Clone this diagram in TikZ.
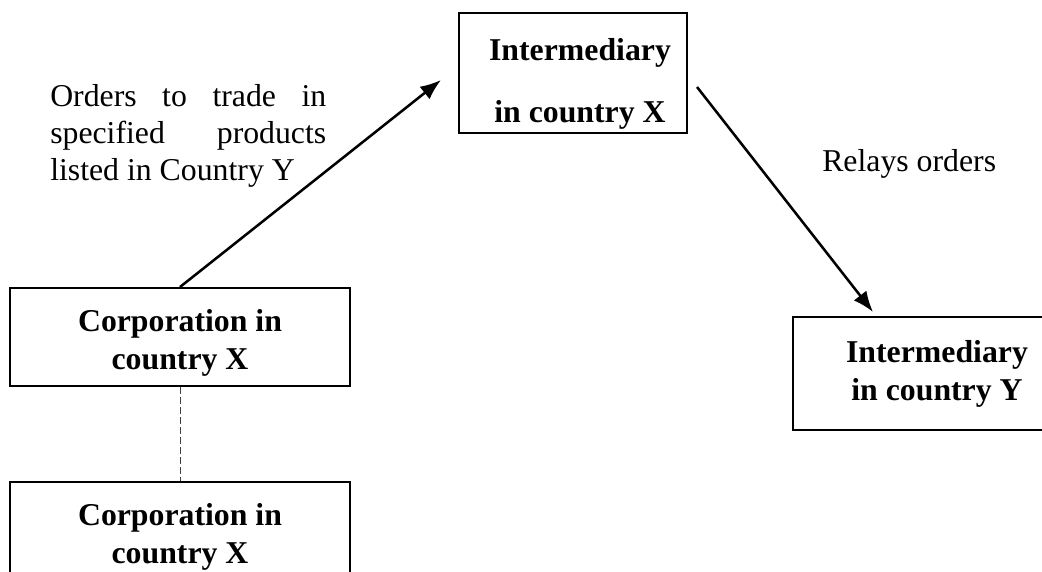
\documentclass[tikz,border=0pt]{standalone}
\usepackage{fontspec}
\setmainfont{Liberation Serif}
\usepackage{tikz}
\usepackage{xcolor}
\usetikzlibrary{arrows.meta, positioning}

\begin{document}
\begin{tikzpicture}[
    node distance=2.35cm,
    party/.style={rectangle, draw, line width=1.4pt, align=center, inner sep=0pt, font=\bfseries\fontsize{22.6}{27}\selectfont},
    corpbox/.style={party, minimum width=8.5cm, minimum height=2.45cm},
    note/.style={inner sep=0pt, anchor=base west, font=\fontsize{22.6}{26}\selectfont},
    flow/.style={-{Latex[length=0.52cm, width=0.4cm]}, line width=1.8pt}
]
\useasboundingbox (0,0) rectangle (26.05,-14.3);

\node[corpbox] (corp) at (4.5,-8.425) {\rule{0pt}{0.84cm}Corporation in\\country X};
\node[corpbox, below=of corp] (corpb) {\rule{0pt}{0.84cm}Corporation in\\country X};

\node[party, minimum width=5.7cm, minimum height=3cm] (interx) at (14.325,-1.825) {\rule{0pt}{1.1cm}\hspace*{0.35cm}Intermediary\\[0.6cm]\hspace*{0.35cm}in country X};
\node[party, minimum width=7.2cm, minimum height=2.825cm] (intery) at (23.425,-9.3375) {Intermediary\\in country Y};

\node[note, text width=6.9cm, align=justify] (orders) at (1.25,-2.675) {Orders\hfill to\hfill trade\hfill in\\specified\hfill products\\listed in Country Y};
\node[note] (relays) at (20.55,-4.3) {Relays orders};

\coordinate (ordtip) at (11.025,-2.0);
\coordinate (relstart) at (17.425,-2.175);
\coordinate (reltip) at (21.825,-7.8);

\draw[flow] (corp.north) -- (ordtip);
\draw[flow] (relstart) -- (reltip);
\draw[dash pattern=on 0.17cm off 0.08cm, line width=0.7pt, black!75] (corp) -- (corpb);

\end{tikzpicture}
\end{document}
